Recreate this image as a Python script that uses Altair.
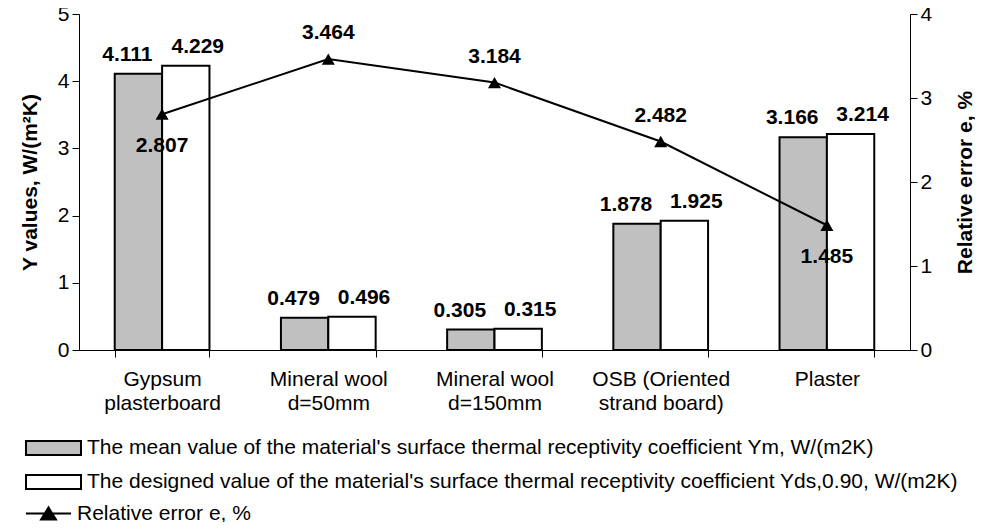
import altair as alt
import pandas as pd

categories = ["Gypsum|plasterboard", "Mineral wool|d=50mm", "Mineral wool|d=150mm",
              "OSB (Oriented|strand board)", "Plaster"]
series = ["The mean value of the material's surface thermal receptivity coefficient Ym, W/(m2K)",
          "The designed value of the material's surface thermal receptivity coefficient Yds,0.90, W/(m2K)"]
ym_values = [4.111, 0.479, 0.305, 1.878, 3.166]
yds_values = [4.229, 0.496, 0.315, 1.925, 3.214]
error_name = "Relative error e, %"
error_values = [2.807, 3.464, 3.184, 2.482, 1.485]
below_labels = ["Gypsum|plasterboard", "Plaster"]

bar_rows = []
for c, a, b in zip(categories, ym_values, yds_values):
    bar_rows.append({"Material": c, "Series": series[0], "Value": a})
    bar_rows.append({"Material": c, "Series": series[1], "Value": b})
bar_df = pd.DataFrame(bar_rows)
err_df = pd.DataFrame({"Material": categories, "Error": error_values,
                       "Series": [error_name] * len(categories),
                       "Below": [c in below_labels for c in categories]})

FONT = "Liberation Sans"
FS = 21
LFS = 21

x_enc = alt.X("Material:N", sort=categories, title=None,
              scale=alt.Scale(paddingInner=0.43, paddingOuter=0.215),
              axis=alt.Axis(labelExpr="split(datum.label, '|')", labelAngle=0,
                            labelPadding=11, labelLineHeight=24, tickBand="extent",
                            labelFontSize=FS, tickSize=7))
xoff_enc = alt.XOffset("Series:N", sort=series, scale=alt.Scale(paddingInner=0, paddingOuter=0))

bars = alt.Chart(bar_df).mark_bar(stroke="black", strokeWidth=2).encode(
    x=x_enc,
    xOffset=xoff_enc,
    y=alt.Y("Value:Q", scale=alt.Scale(domain=[0, 5]),
            axis=alt.Axis(values=[0, 1, 2, 3, 4, 5], format="d", title="Y values, W/(m²K)",
                          titleFontWeight="bold", titleFontSize=FS, titlePadding=17,
                          labelFontSize=FS, labelPadding=3, tickSize=7, grid=False)),
    fill=alt.Fill("Series:N", sort=series,
                  scale=alt.Scale(domain=series, range=["#c0c0c0", "#ffffff"]),
                  legend=alt.Legend(orient="none", legendX=-41.5, legendY=418, title=None,
                                    symbolType="M-1.833,-0.467H1.833V0.467H-1.833Z",
                                    symbolSize=900,
                                    symbolStrokeColor="black", symbolStrokeWidth=2,
                                    labelFontSize=LFS, labelFont=FONT, labelLimit=1200,
                                    labelOffset=17.5, rowPadding=6)),
)


def bar_labels(name, shift):
    return alt.Chart(bar_df).transform_filter(
        alt.datum.Series == name
    ).mark_text(baseline="bottom", dy=-9, dx=shift, fontSize=FS, fontWeight="bold",
                font=FONT, color="black").encode(
        x=x_enc, xOffset=xoff_enc,
        y=alt.Y("Value:Q", scale=alt.Scale(domain=[0, 5])),
        text=alt.Text("Value:Q", format=".3f"),
    )


left = alt.layer(bars, bar_labels(series[0], -11), bar_labels(series[1], 12))

y_err = alt.Y("Error:Q", scale=alt.Scale(domain=[0, 4]),
              axis=alt.Axis(orient="right", values=[0, 1, 2, 3, 4], format="d",
                            title=error_name, titleFontWeight="bold", titleFontSize=FS,
                            titlePadding=44, titleAngle=270, labelFontSize=FS,
                            labelPadding=3, tickSize=7, grid=False))
line = alt.Chart(err_df).mark_line(color="black", strokeWidth=2).encode(x=x_enc, y=y_err)
points = alt.Chart(err_df).mark_point(shape="triangle-up", filled=True, size=170,
                                      opacity=1).encode(
    x=x_enc, y=y_err,
    fill=alt.Fill("Series:N", scale=alt.Scale(domain=[error_name], range=["black"]),
                  legend=alt.Legend(orient="none", legendX=-54, legendY=476, title=None,
                                    symbolType="M-1,0H1M-0.33,0.27L0,-0.27L0.33,0.27Z",
                                    symbolSize=2025, symbolStrokeColor="black",
                                    symbolFillColor="black", symbolStrokeWidth=2,
                                    labelFontSize=LFS, labelFont=FONT, labelLimit=1200,
                                    labelOffset=5)),
)
err_text_above = alt.Chart(err_df).transform_filter("!datum.Below").mark_text(
    fontSize=FS, fontWeight="bold", font=FONT, color="black", dy=-26).encode(
    x=x_enc, y=y_err, text=alt.Text("Error:Q", format=".3f"),
)
err_text_below = alt.Chart(err_df).transform_filter("datum.Below").mark_text(
    fontSize=FS, fontWeight="bold", font=FONT, color="black", dy=32).encode(
    x=x_enc, y=y_err, text=alt.Text("Error:Q", format=".3f"),
)
right = alt.layer(line, points, err_text_above, err_text_below)

chart = alt.layer(left, right).resolve_scale(y="independent", fill="independent").properties(
    width=831, height=336,
    autosize=alt.AutoSizeParams(type="none"),
    padding={"left": 71, "top": 6, "right": 65, "bottom": 172},
).configure(font=FONT).configure_view(stroke=None).configure_axis(
    domainColor="black", tickColor="black", labelColor="black", titleColor="black",
    labelFont=FONT, titleFont=FONT, domainWidth=1, tickWidth=1,
)

chart.save("out.html", embed_options={"renderer": "svg", "actions": False})
